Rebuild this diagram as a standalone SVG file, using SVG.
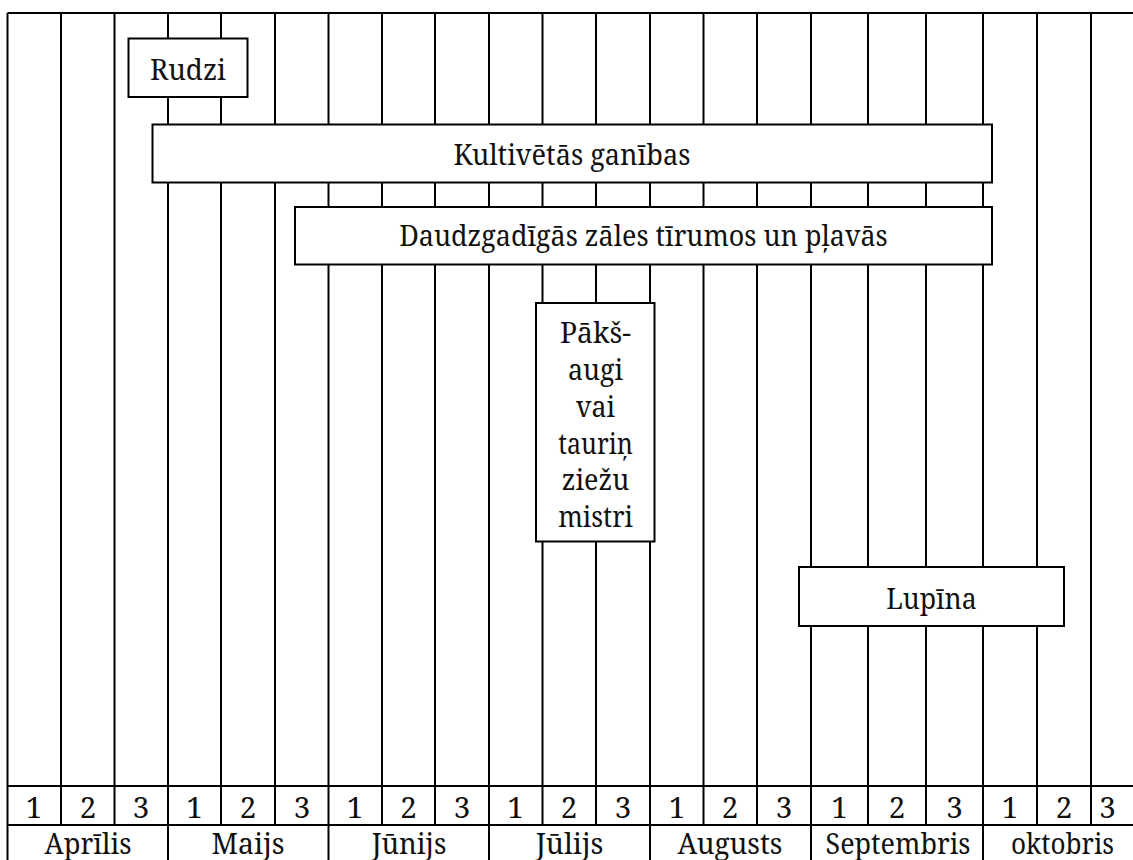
<svg xmlns="http://www.w3.org/2000/svg" width="1133" height="860" viewBox="0 0 1133 860">
<style>
.ln{stroke:#000;stroke-width:2;fill:none}
.bx{fill:#fff;stroke:#000;stroke-width:2}
text{font-family:"Noto Serif","Liberation Serif","DejaVu Serif",serif;font-size:29.5px;fill:#111;text-anchor:middle}
</style>
<rect width="1133" height="860" fill="#fff"/>
<g id="grid">
<path class="ln" d="M7.5 13H1133M7.5 786H1133M7.5 825H1133M7.5 13V860"/>
<path class="ln" d="M61 13V825M114.5 13V825M168 13V860M221 13V825M275 13V825M328.5 13V860M382 13V825M435 13V825M489 13V860M542.5 13V825M596 13V825M650 13V860M703.5 13V825M757 13V825M811 13V860M868 13V825M926 13V825M983 13V860M1037 13V825M1091 13V825"/>
</g>
<g id="days">
<text x="34" y="818">1</text><text x="88" y="818">2</text><text x="141" y="818">3</text>
<text x="194.5" y="818">1</text><text x="248" y="818">2</text><text x="302" y="818">3</text>
<text x="355" y="818">1</text><text x="408.5" y="818">2</text><text x="462" y="818">3</text>
<text x="515.5" y="818">1</text><text x="569" y="818">2</text><text x="623" y="818">3</text>
<text x="677" y="818">1</text><text x="730" y="818">2</text><text x="784" y="818">3</text>
<text x="839.5" y="818">1</text><text x="897" y="818">2</text><text x="954.5" y="818">3</text>
<text x="1010" y="818">1</text><text x="1064" y="818">2</text><text x="1107.5" y="818">3</text>
</g>
<g id="months" lengthAdjust="spacingAndGlyphs">
<text x="88" y="854" textLength="87" lengthAdjust="spacingAndGlyphs">Aprīlis</text>
<text x="248" y="854" textLength="73" lengthAdjust="spacingAndGlyphs">Maijs</text>
<text x="409" y="854" textLength="74.7" lengthAdjust="spacingAndGlyphs">Jūnijs</text>
<text x="569.5" y="854" textLength="67.6" lengthAdjust="spacingAndGlyphs">Jūlijs</text>
<text x="730" y="854" textLength="104.9" lengthAdjust="spacingAndGlyphs">Augusts</text>
<text x="898" y="854" textLength="145" lengthAdjust="spacingAndGlyphs">Septembris</text>
<text x="1062.5" y="854" textLength="103" lengthAdjust="spacingAndGlyphs">oktobris</text>
</g>
<g id="rudzi">
<rect class="bx" x="128.5" y="38.5" width="119" height="58.5"/>
<text x="188" y="79.5" textLength="76" lengthAdjust="spacingAndGlyphs">Rudzi</text>
</g>
<g id="kultivetas">
<rect class="bx" x="152.5" y="124.5" width="839.5" height="58"/>
<text x="572" y="164.5" textLength="237" lengthAdjust="spacingAndGlyphs">Kultivētās ganības</text>
</g>
<g id="daudzgadigas">
<rect class="bx" x="295" y="207" width="697" height="57.5"/>
<text x="643.5" y="246" textLength="488.5" lengthAdjust="spacingAndGlyphs">Daudzgadīgās zāles tīrumos un pļavās</text>
</g>
<g id="pakšaugi">
<rect class="bx" x="536" y="303" width="118.5" height="238.5"/>
<text x="595.5" y="343" textLength="71" lengthAdjust="spacingAndGlyphs">Pākš-</text>
<text x="595.5" y="379.5" textLength="55" lengthAdjust="spacingAndGlyphs">augi</text>
<text x="595.5" y="416.5" textLength="39" lengthAdjust="spacingAndGlyphs">vai</text>
<text x="595.5" y="453.5" textLength="74.7" lengthAdjust="spacingAndGlyphs">tauriņ</text>
<text x="595.5" y="490" textLength="67.5" lengthAdjust="spacingAndGlyphs">ziežu</text>
<text x="595.5" y="527" textLength="74.7" lengthAdjust="spacingAndGlyphs">mistri</text>
</g>
<g id="lupina">
<rect class="bx" x="799" y="567" width="265" height="59"/>
<text x="931.5" y="608.5" textLength="90.7" lengthAdjust="spacingAndGlyphs">Lupīna</text>
</g>
</svg>
